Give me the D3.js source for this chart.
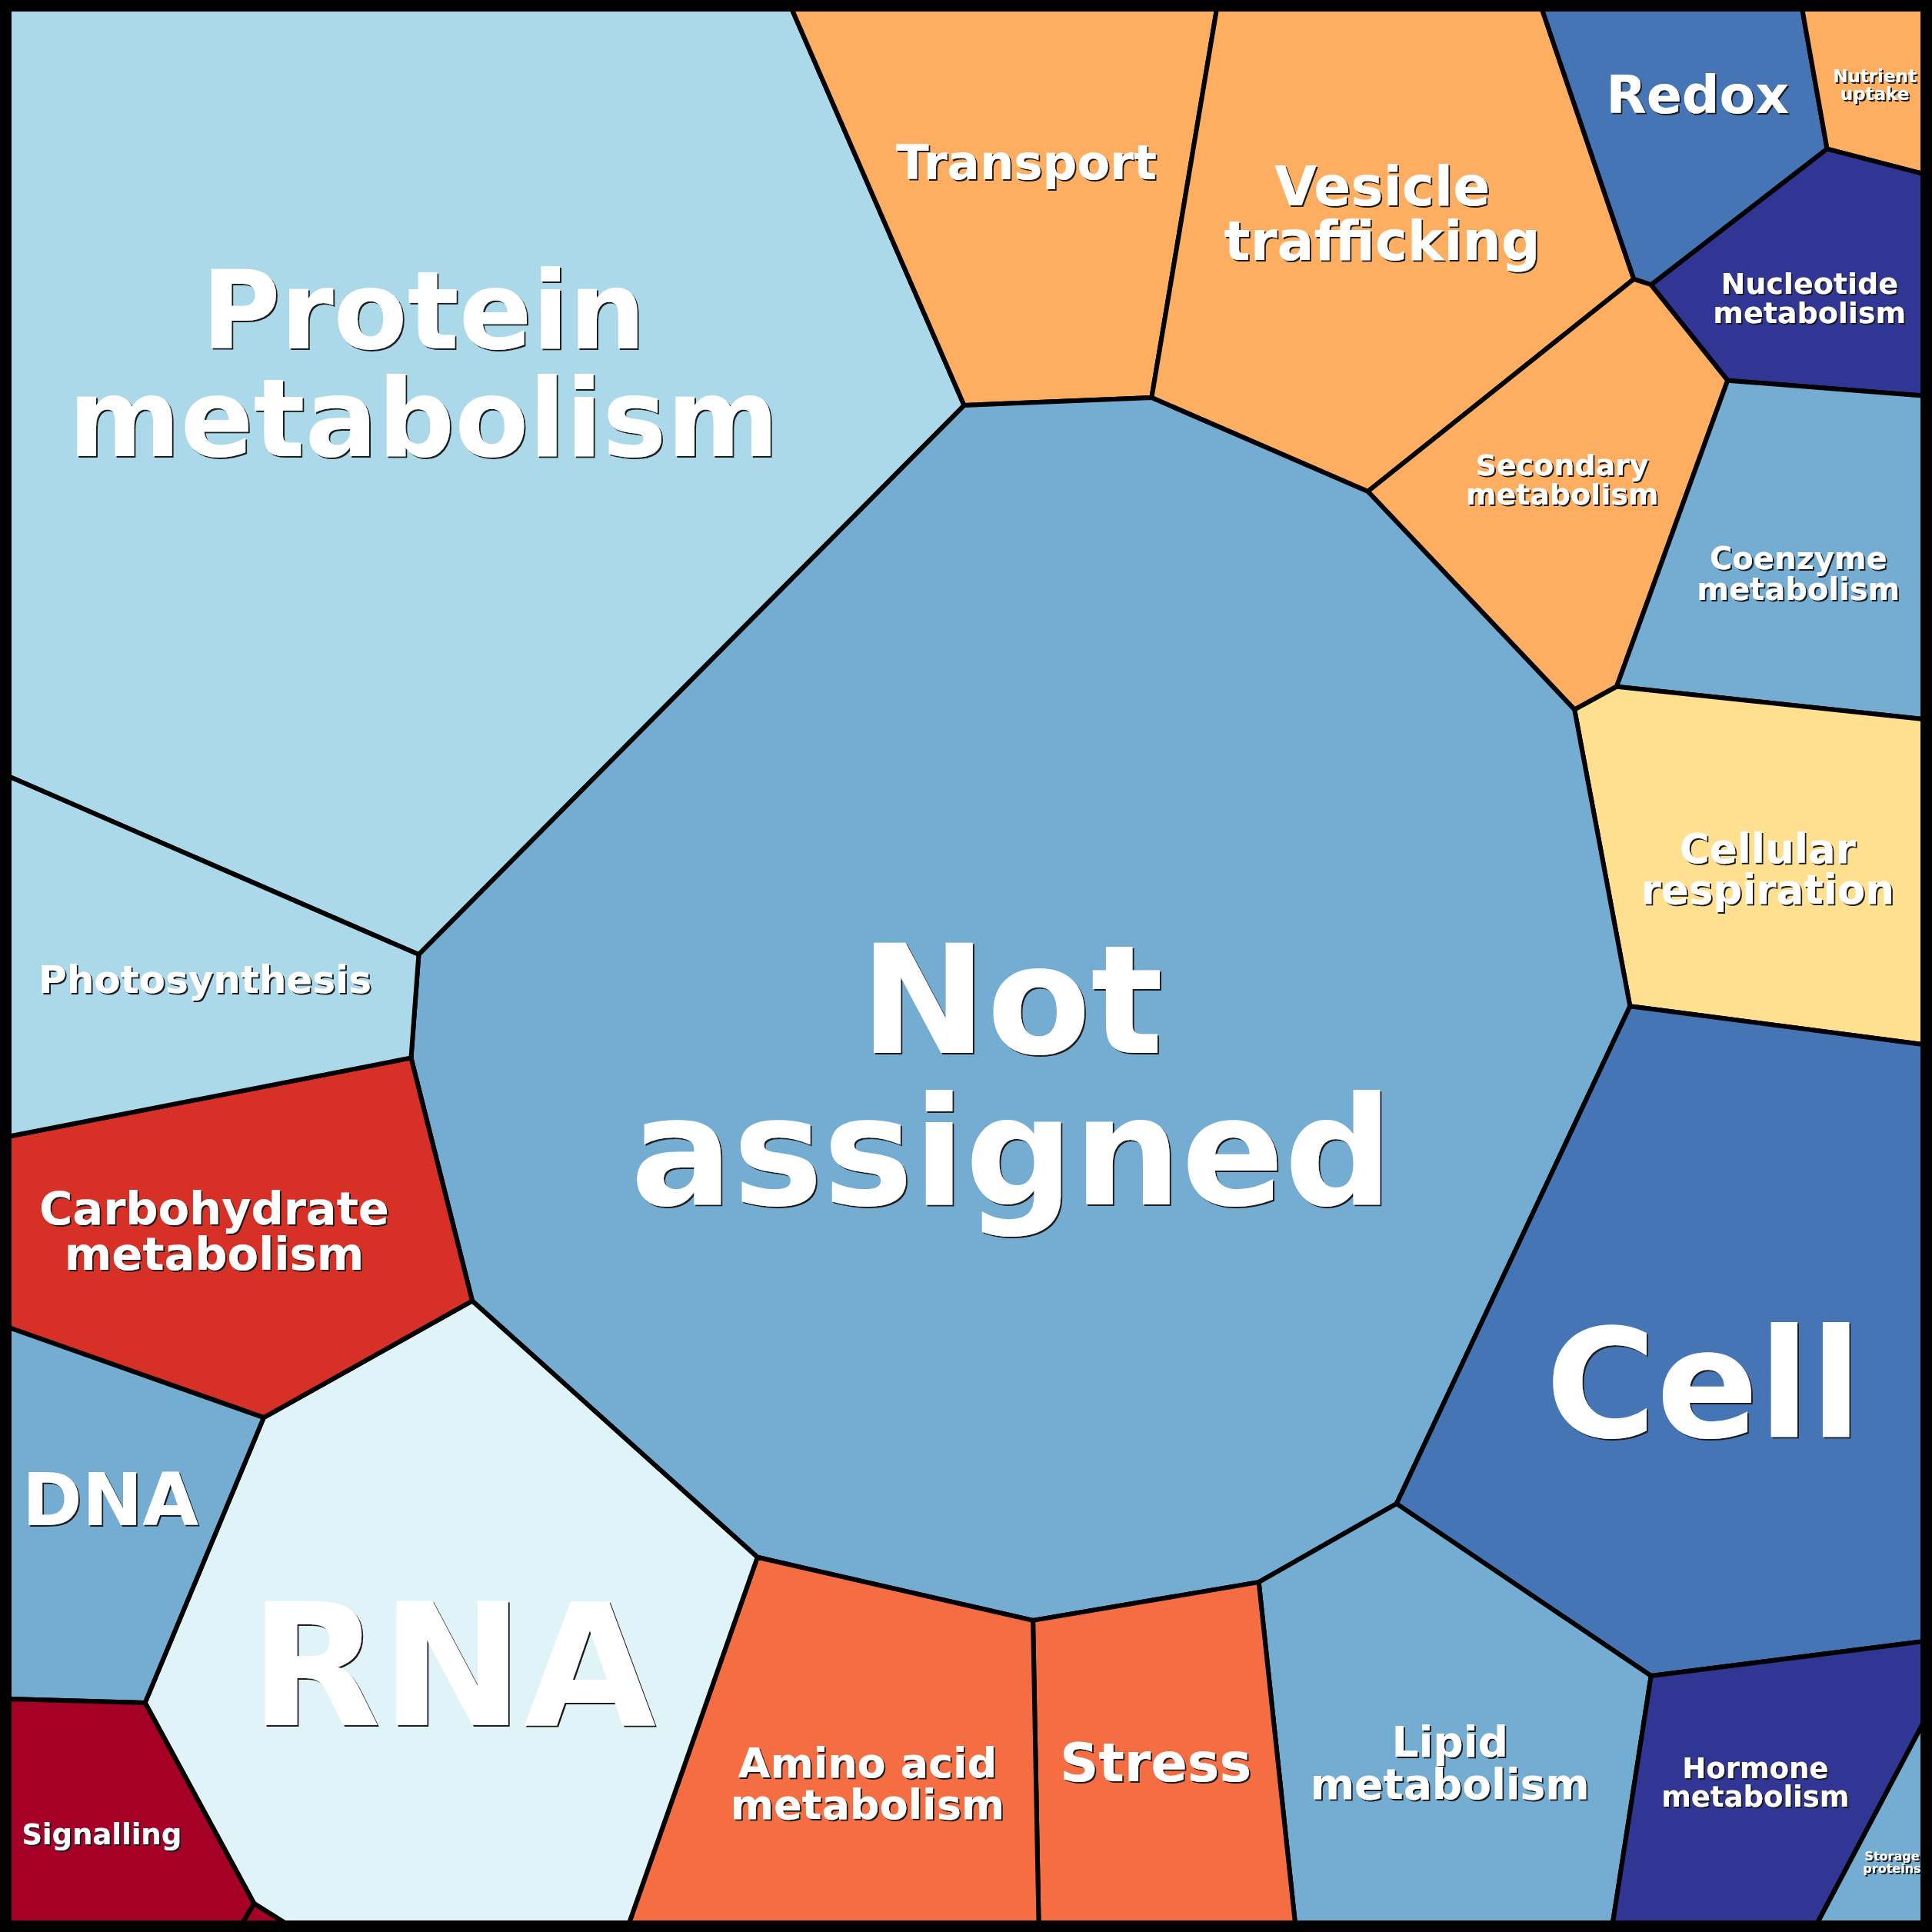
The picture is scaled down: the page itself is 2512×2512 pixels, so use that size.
<!DOCTYPE html>
<html>
<head>
<meta charset="utf-8">
<script src="https://cdn.jsdelivr.net/npm/d3@7"></script>
<style>
  html, body { margin: 0; padding: 0; background: #ffffff; }
  svg { display: block; }
</style>
</head>
<body>
<div id="chart"></div>
<script>
// ---------------- DATA ----------------
// Category names (one Voronoi-treemap cell each)
const categories = [
  "Protein metabolism", "Transport", "Vesicle trafficking", "Redox",
  "Nutrient uptake", "Nucleotide metabolism", "Secondary metabolism",
  "Coenzyme metabolism", "Cellular respiration", "Not assigned", "Cell",
  "Lipid metabolism", "Hormone metabolism", "Storage proteins", "Stress",
  "Amino acid metabolism", "RNA", "Carbohydrate metabolism",
  "Photosynthesis", "DNA", "Signalling", "Other"
];

// Colour class of each category (index into the 11-step RdYlBu scheme)
const colorLevels = [7, 3, 3, 9, 3, 10, 3, 8, 4, 8, 9, 8, 10, 8, 2, 2, 6, 1, 7, 8, 0, 0];

// Cell corner points, in treemap units (0..1000 on both axes)
const vertices = [
  [0, 0], [1000, 0], [1000, 1000], [0, 1000],
  [409, 0], [499, 207], [631, 0], [597, 203], [801, 0], [849, 141],
  [858, 144], [937, 0], [950, 73], [1000, 86], [710, 252], [898, 194],
  [1000, 202], [818, 366], [840, 354], [1000, 371], [847, 521], [1000, 541],
  [725, 781], [653, 822], [858, 871], [1000, 853], [672, 1000], [838, 1000],
  [1000, 896], [945, 1000], [535, 842], [538, 1000], [391, 809], [324, 1000],
  [242, 675], [133, 736], [0, 689], [210, 548], [0, 589], [214, 494],
  [0, 401], [71, 885], [0, 883], [128, 990], [122, 1000], [144, 1000]
];

// Vertex indices of each cell, in the same order as `categories`
const cellVertices = [
  [0, 4, 5, 39, 40],
  [4, 6, 7, 5],
  [6, 8, 9, 14, 7],
  [8, 11, 12, 10, 9],
  [11, 1, 13, 12],
  [12, 13, 16, 15, 10],
  [9, 10, 15, 18, 17, 14],
  [15, 16, 19, 18],
  [18, 19, 21, 20, 17],
  [5, 7, 14, 17, 20, 22, 23, 30, 32, 34, 37, 39],
  [20, 21, 25, 24, 22],
  [22, 24, 27, 26, 23],
  [24, 25, 28, 29, 27],
  [28, 2, 29],
  [23, 26, 31, 30],
  [30, 31, 33, 32],
  [32, 33, 45, 43, 41, 35, 34],
  [37, 34, 35, 36, 38],
  [39, 37, 38, 40],
  [35, 41, 42, 36],
  [41, 43, 44, 3, 42],
  [43, 45, 44]
];

// Generator site of each cell (label anchor), in treemap units
const sites = [
  [216.5, 184.7], [531.5, 79.5], [717.5, 106.5], [882.3, 44.4],
  [974.9, 39.3], [940.8, 150.9], [811.5, 245.5], [935.0, 294.7],
  [918.9, 449.2], [523.8, 556.3], [885.5, 717.2], [752.9, 916.3],
  [912.5, 926.6], [983.9, 968.5], [599.1, 915.7], [448.5, 926.9],
  [231.7, 864.2], [107.1, 638.4], [102.3, 506.8], [52.8, 778.3],
  [48.3, 953.7], [131.0, 996.0]
];

// ---------------- STYLE ----------------
const W = 2512, H = 2512;
const labelFontSize = {
  "Protein metabolism": 140, "Transport": 62.5, "Vesicle trafficking": 71,
  "Redox": 68, "Nutrient uptake": 23, "Nucleotide metabolism": 38,
  "Secondary metabolism": 38, "Coenzyme metabolism": 40,
  "Cellular respiration": 53, "Not assigned": 197, "Cell": 196,
  "Lipid metabolism": 55, "Hormone metabolism": 37, "Storage proteins": 16,
  "Stress": 70, "Amino acid metabolism": 54, "RNA": 222,
  "Carbohydrate metabolism": 59, "Photosynthesis": 50, "DNA": 94,
  "Signalling": 37
};

// ---------------- DRAW ----------------
const x = d3.scaleLinear().domain([0, 1000]).range([12, 2500]);
const y = d3.scaleLinear().domain([0, 1000]).range([12, 2500]);
const palette = d3.schemeRdYlBu[11];
const color = d3.scaleOrdinal().domain(d3.range(11)).range(palette);

const cells = categories.map((name, i) => {
  const pts = cellVertices[i].map(k => [x(vertices[k][0]), y(vertices[k][1])]);
  return { name, level: colorLevels[i], pts, site: [x(sites[i][0]), y(sites[i][1])] };
});

const svg = d3.select("#chart").append("svg")
  .attr("width", W).attr("height", H)
  .attr("viewBox", `0 0 ${W} ${H}`);

const defs = svg.append("defs");
const filt = defs.append("filter").attr("id", "txtShadow")
  .attr("x", "-5%").attr("y", "-5%").attr("width", "110%").attr("height", "115%");
filt.append("feDropShadow")
  .attr("dx", 2).attr("dy", 2).attr("stdDeviation", 0.4)
  .attr("flood-color", "#1b1b1b").attr("flood-opacity", 1);

svg.append("rect").attr("x", 0).attr("y", 0).attr("width", W).attr("height", H)
  .attr("fill", "#000");

const line = d3.line();
svg.append("g").selectAll("path").data(cells).join("path")
  .attr("d", d => line(d.pts) + "Z")
  .attr("fill", d => color(d.level))
  .attr("stroke", "#000")
  .attr("stroke-width", 6)
  .attr("stroke-linejoin", "round");

svg.append("rect")
  .attr("x", 6).attr("y", 6).attr("width", W - 12).attr("height", H - 12)
  .attr("rx", 8)
  .attr("fill", "none").attr("stroke", "#000").attr("stroke-width", 12);

function splitLabel(name) {
  const k = name.lastIndexOf(" ");
  return k < 0 ? [name] : [name.slice(0, k), name.slice(k + 1)];
}

const labels = svg.append("g")
  .attr("font-family", "'DejaVu Sans', sans-serif")
  .attr("font-weight", "bold")
  .attr("text-anchor", "middle")
  .attr("fill", "#ffffff");

cells.forEach(c => {
  const fs = labelFontSize[c.name];
  if (!fs) return;
  const [cx, cy] = c.site;
  const lines = splitLabel(c.name);
  const n = lines.length;
  const y0 = cy - (n - 1) * fs / 2 + 0.729 * fs / 2;
  const t = labels.append("text")
    .attr("font-size", fs)
    .attr("filter", "url(#txtShadow)")
    .attr("transform", `translate(${cx},${y0})`);
  lines.forEach((ln, j) => {
    t.append("tspan").attr("x", 0).attr("y", j * fs).text(ln);
  });
});
</script>
</body>
</html>
